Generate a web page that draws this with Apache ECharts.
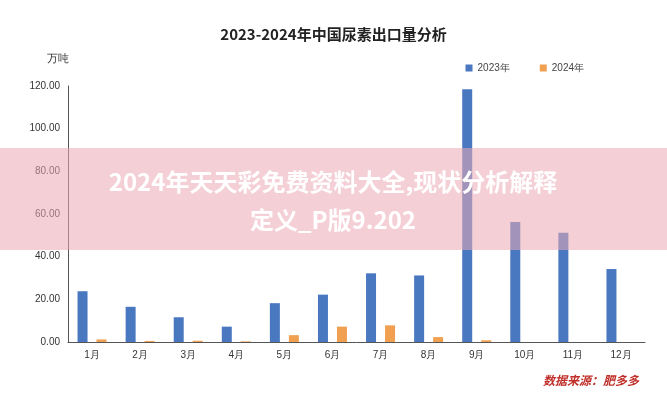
<!DOCTYPE html>
<html><head><meta charset="utf-8">
<script src="https://cdn.jsdelivr.net/npm/echarts@6/dist/echarts.min.js"></script>
<style>html,body{margin:0;padding:0;background:#fff}#c{width:667px;height:400px}</style>
</head><body><div id="c"></div>
<script>
var categories=['1月','2月','3月','4月','5月','6月','7月','8月','9月','10月','11月','12月'];
var s2023=[23.8,16.5,11.6,7.2,18.2,22.2,32.2,31.2,118.5,56.2,51.2,34.2];
var s2024=[1.2,0.5,0.6,0.3,3.2,7.2,7.8,2.3,0.8,0,0,0];
var yTicks=[0,20,40,60,80,100,120];
var chart=echarts.init(document.getElementById('c'));
chart.setOption({
  animation:false,
  title:{text:'2023-2024年中国尿素出口量分析',left:'center',top:22,textStyle:{fontSize:15,fontWeight:'bold',color:'#222',fontFamily:'Noto Sans CJK SC'}},
  legend:{top:58,right:78,itemWidth:7,itemHeight:7,itemGap:30,icon:'rect',textStyle:{fontSize:10,color:'#444'},data:['2023年','2024年']},
  grid:{left:68,right:22,top:86,bottom:58},
  xAxis:{type:'category',data:categories,axisTick:{show:false},axisLine:{lineStyle:{color:'#555'}},axisLabel:{fontSize:10,color:'#333'}},
  yAxis:{type:'value',min:0,max:120,interval:20,name:'万吨',nameLocation:'end',nameGap:22,nameTextStyle:{fontSize:11,color:'#333',padding:[0,20,0,0]},
    axisLine:{show:true,lineStyle:{color:'#555'}},splitLine:{show:false},
    axisLabel:{fontSize:10,color:'#333',formatter:function(v){return v.toFixed(2);}}},
  series:[
    {name:'2023年',type:'bar',data:s2023,barWidth:10,barGap:'90%',itemStyle:{color:'#4a78c0'}},
    {name:'2024年',type:'bar',data:s2024,barWidth:10,itemStyle:{color:'#f0a050'}}
  ],
  graphic:[
    {type:'text',right:28,bottom:14,style:{text:'数据来源：肥多多',fill:'#c0302a',fontSize:12,fontStyle:'italic',fontWeight:'bold',fontFamily:'Noto Sans CJK SC'}},
    {type:'rect',left:0,top:148,shape:{width:667,height:102},style:{fill:'rgba(235,170,180,0.55)'},z:100},
    {type:'text',x:333,y:163,z:101,style:{text:'2024年天天彩免费资料大全,现状分析解释\n定义_P版9.202',fill:'#fff',fontSize:24,fontWeight:'bold',lineHeight:38,align:'center',textAlign:'center',fontFamily:'Noto Sans CJK SC'}}
  ]
});
</script></body></html>
